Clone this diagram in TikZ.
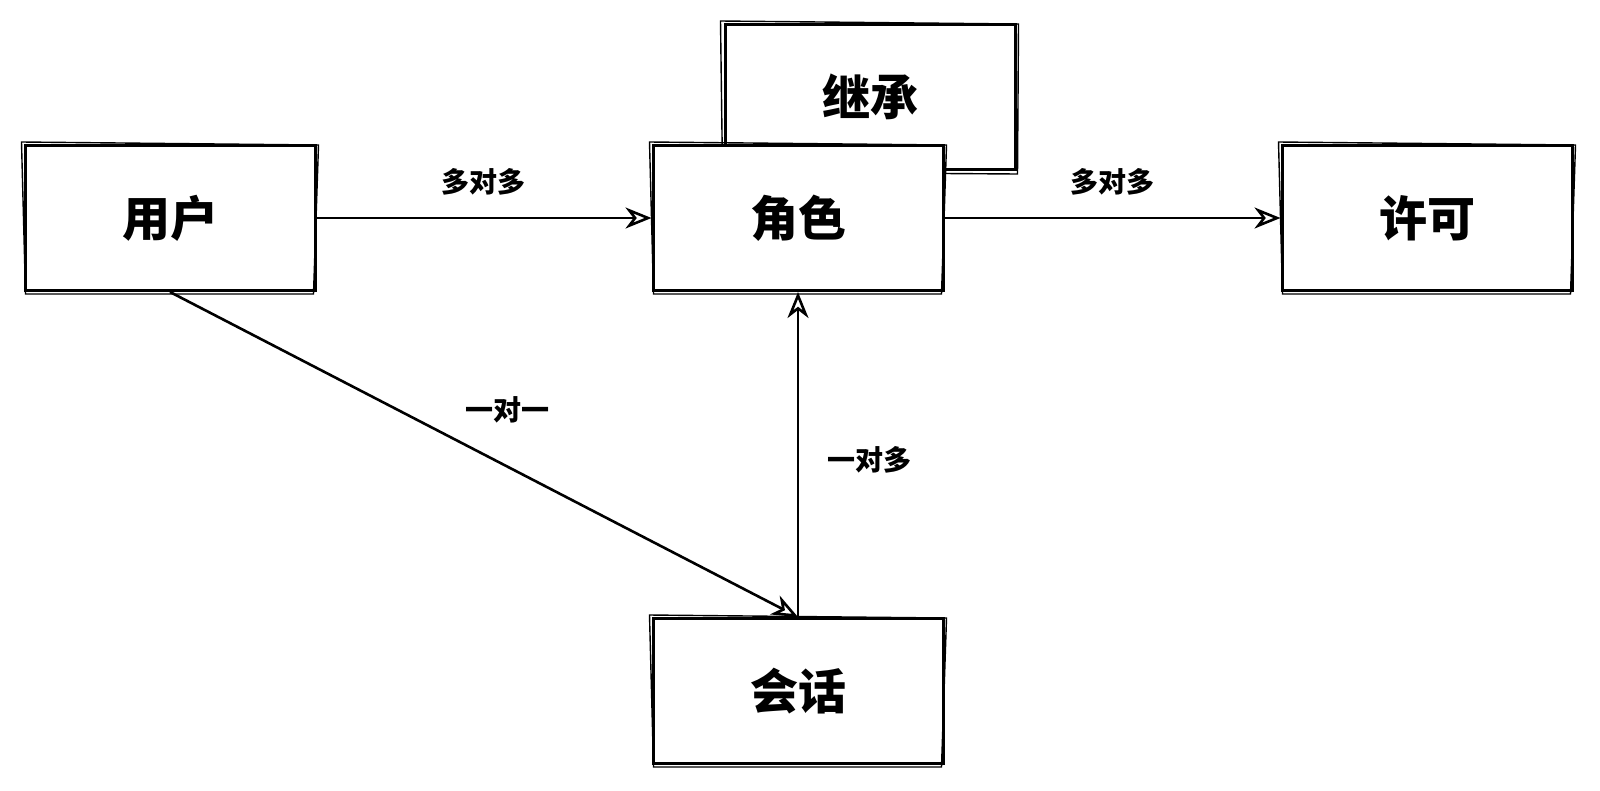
\documentclass[tikz,border=0pt]{standalone}
\usepackage{fontspec}
\newfontfamily\cjk{Noto Sans CJK SC}
\usetikzlibrary{arrows.meta}

\tikzset{
  box/.style={draw, line width=3pt, fill=white, minimum width=290pt, minimum height=145pt,
    font=\cjk\bfseries\fontsize{48}{56}\selectfont},
  lbl/.style={font=\cjk\bfseries\fontsize{28}{32}\selectfont},
  link/.style={line width=2.6pt, -{Stealth[open, length=26pt, width=21pt, inset=8pt]}},
  rough/.style={line width=1.4pt}
}

\begin{document}
\begin{tikzpicture}[x=1pt, y=-1pt]

\useasboundingbox (0,0) rectangle (1600,790);

% the inheritance box sits behind the role box
\node[box] (inh) at (870,97) {继承};
\draw[rough] ([shift={(-3,-2)}]inh.north west) -- ([shift={(2,1)}]inh.north east)
  -- ([shift={(1,3)}]inh.south east) -- ([shift={(-1,1)}]inh.south west) -- cycle;

\node[box] (user) at (170,218) {用户};
\node[box] (role) at (798,218) {角色};
\node[box] (perm) at (1427,218) {许可};
\node[box] (sess) at (798,691) {会话};

\foreach \n in {user, role, perm, sess}
  \draw[rough] ([shift={(-2,-2)}]\n.north west) -- ([shift={(2,1)}]\n.north east)
    -- ([shift={(-3,2)}]\n.south east) -- ([shift={(2,2)}]\n.south west) -- cycle;

\draw[link] (user.east) -- (role.west);
\draw[link] (role.east) -- (perm.west);
\draw[link] (user.south) -- (sess.north);
\draw[link] (sess.north) -- (role.south);

\node[lbl] (uR) at (483,182) {多对多};
\node[lbl] (rP) at (1112,182) {多对多};
\node[lbl] (uS) at (507,410) {一对一};
\node[lbl] (sR) at (869,460) {一对多};

\end{tikzpicture}
\end{document}
